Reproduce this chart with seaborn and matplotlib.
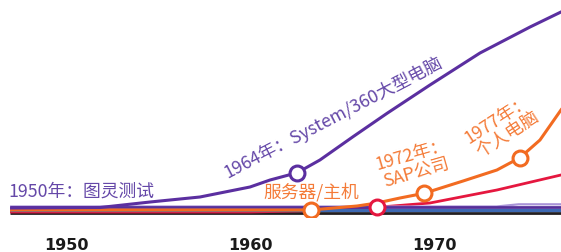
import numpy as np
import pandas as pd
import matplotlib
matplotlib.use("Agg")
import matplotlib.pyplot as plt
import seaborn as sns

# ---------------- data (years, relative value) ----------------
purple_years = [1946.96, 1951.85, 1954.57, 1957.28, 1960.0, 1961.09, 1962.57, 1963.80,
                1965.60, 1967.45, 1969.78, 1972.50, 1975.22, 1976.90, 1977.17]
purple_vals  = [6, 6.5, 12, 17, 27, 34, 41.3, 54, 77.3, 100.7, 129, 161, 187, 202, 204]

orange_years = [1946.96, 1962.17, 1963.30, 1965.82, 1966.90, 1968.15, 1969.46, 1971.58,
                1973.42, 1974.67, 1975.76, 1976.90, 1977.17]
orange_vals  = [4, 4, 4, 8, 11, 16, 20.7, 33, 44, 56.3, 74, 104, 111]

red_years = [1946.96, 1960.0, 1963.8, 1966.89, 1969.78, 1973.42, 1976.90, 1977.17]
red_vals  = [2, 2, 3.5, 6.7, 11, 24, 39, 40]

flat_years = [1946.96, 1977.17]
purple_flat_vals = [7.5, 7.5]
blue_vals = [4.5, 4.5]
black_vals = [1, 1]

lilac_years = [1946.96, 1973.4, 1974.6, 1977.17]
lilac_vals = [7.5, 7.5, 9.7, 9.7]

# milestone markers
mark_years = [1962.57, 1963.30, 1966.89, 1969.46, 1974.67]
mark_vals  = [41.3, 4, 6.7, 20.7, 56.3]
mark_series = ["purple", "orange", "red", "orange", "orange"]

tick_years = [1950, 1960, 1970]
tick_labels = ["1950", "1960", "1970"]

colors = {
    "purple": "#5b2fa0",
    "orange": "#f26b21",
    "red": "#e5173f",
    "blue": "#3d69b3",
    "black": "#231f20",
    "purple_flat": "#56309a",
    "lilac": "#a994d8",
}
purple_text = "#6548a8"
orange_text = "#f47b38"

# ---------------- figure ----------------
sns.set_theme(style="white")
plt.rcParams["font.family"] = ["Noto Sans CJK SC", "DejaVu Sans"]

W, H = 561, 252
fig = plt.figure(figsize=(W / 100, H / 100), dpi=100)
ax = fig.add_axes([0, 35 / H, 1, 217 / H])

def seg(name, xs, ys):
    return pd.DataFrame({"year": xs, "value": ys, "series": name})

df = pd.concat([
    seg("black", flat_years, black_vals),
    seg("red", red_years, red_vals),
    seg("blue", flat_years, blue_vals),
    seg("lilac", lilac_years, lilac_vals),
    seg("purple_flat", flat_years, purple_flat_vals),
    seg("orange", orange_years, orange_vals),
    seg("purple", purple_years, purple_vals),
], ignore_index=True)

widths = {"black": 2.0, "red": 2.0, "blue": 2.3, "lilac": 1.6,
          "purple_flat": 2.0, "orange": 2.2, "purple": 2.2}
for name in ["black", "red", "blue", "lilac", "purple_flat", "orange", "purple"]:
    sub = df[df["series"] == name]
    sns.lineplot(data=sub, x="year", y="value", ax=ax, color=colors[name],
                 linewidth=widths[name], estimator=None, sort=False,
                 solid_capstyle="butt", solid_joinstyle="round", legend=False)

mdf = pd.DataFrame({"year": mark_years, "value": mark_vals, "series": mark_series})
for name in ["orange", "red", "purple"]:
    sub = mdf[mdf["series"] == name]
    sns.scatterplot(data=sub, x="year", y="value", ax=ax, s=115,
                    facecolor="white", edgecolor=colors[name], linewidth=2.2,
                    zorder=5, legend=False)

x0 = 1950 - 66 / 18.4
ax.set_xlim(x0, x0 + W / 18.4)
ax.set_ylim(-3, 214)

def px(x, y):
    return x0 + x / 18.4, 214 - y

fs = 12.8
fw = "light"
ax.text(*px(8, 192), "1950年：图灵测试", color=purple_text, fontsize=fs, fontweight=fw,
        ha="left", va="center")
ax.text(*px(228, 178), "1964年：System/360大型电脑", color=purple_text, fontsize=fs,
        fontweight=fw, ha="left", va="baseline", rotation=27.5, rotation_mode="anchor")
ax.text(*px(311, 192.5), "服务器/主机", color=orange_text, fontsize=fs, fontweight=fw,
        ha="center", va="center")
ax.text(*px(414, 164), "1972年：\nSAP公司", color=orange_text, fontsize=fs, fontweight=fw,
        ha="center", va="center", rotation=16, rotation_mode="anchor",
        multialignment="center", linespacing=1.05)
ax.text(*px(503, 127), "1977年：\n个人电脑", color=orange_text, fontsize=fs, fontweight=fw,
        ha="center", va="center", rotation=33, rotation_mode="anchor",
        multialignment="center", linespacing=1.05)

ax.set_xticks(tick_years)
ax.set_xticklabels(tick_labels, fontsize=11.5, fontweight="bold",
                   family="DejaVu Sans", color="#1a1a1a")
ax.tick_params(axis="x", length=0, pad=15)
ax.set_yticks([])
ax.set_xlabel("")
ax.set_ylabel("")
for s in ax.spines.values():
    s.set_visible(False)

fig.savefig("out.png", dpi=100)
